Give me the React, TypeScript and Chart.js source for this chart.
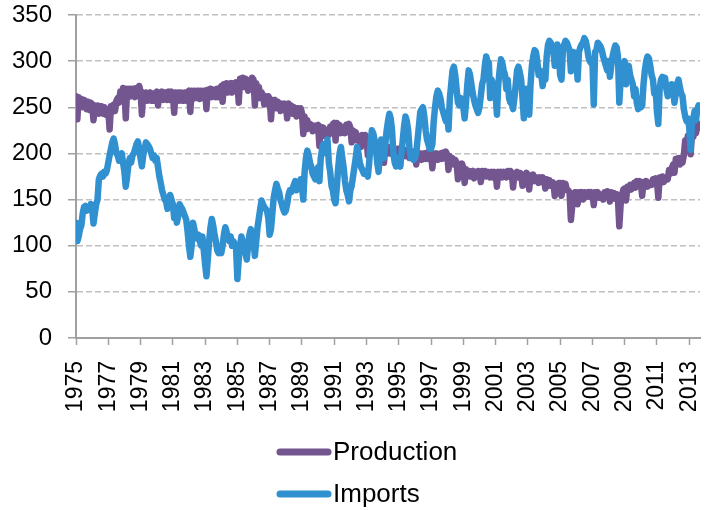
import { useEffect, useRef } from "react";
import { Chart, registerables } from "chart.js";

Chart.register(...registerables);

// Tick labels every 24 months starting Jan 1975
const tickYears = [
  "1975", "1977", "1979", "1981", "1983", "1985", "1987", "1989", "1991", "1993",
  "1995", "1997", "1999", "2001", "2003", "2005", "2007", "2009", "2011", "2013",
];

const seriesNames = ["Production", "Imports"];

// Monthly values, Jan 1975 .. Sep 2013 (one row per year)
const production = [
  262, 237, 261, 252, 259, 250, 258, 257, 248, 256, 247, 255, // 1975
  253, 236, 252, 244, 252, 243, 251, 251, 243, 250, 242, 248, // 1976
  246, 226, 251, 245, 253, 246, 257, 260, 255, 267, 261, 271, // 1977
  270, 238, 270, 261, 270, 262, 270, 270, 261, 271, 264, 273, // 1978
  267, 242, 266, 258, 266, 257, 265, 266, 257, 265, 257, 265, // 1979
  267, 252, 266, 258, 267, 258, 266, 266, 258, 267, 258, 267, // 1980
  265, 244, 266, 257, 266, 257, 266, 265, 257, 266, 257, 266, // 1981
  268, 245, 268, 259, 268, 260, 268, 268, 259, 268, 260, 268, // 1982
  268, 248, 269, 261, 270, 261, 269, 269, 261, 270, 261, 270, // 1983
  273, 256, 275, 266, 276, 266, 275, 276, 266, 276, 268, 277, // 1984
  276, 255, 281, 272, 282, 272, 281, 280, 268, 279, 271, 282, // 1985
  280, 252, 276, 265, 272, 260, 266, 263, 253, 262, 254, 262, // 1986
  259, 237, 258, 250, 258, 249, 256, 254, 246, 254, 247, 254, // 1987
  252, 238, 254, 245, 252, 243, 250, 249, 240, 249, 242, 249, // 1988
  244, 221, 240, 226, 236, 227, 232, 231, 224, 230, 225, 230, // 1989
  231, 208, 229, 221, 228, 219, 225, 225, 220, 229, 224, 232, // 1990
  233, 214, 233, 225, 231, 222, 228, 228, 222, 231, 224, 232, // 1991
  228, 212, 225, 217, 223, 214, 219, 219, 207, 220, 213, 220, // 1992
  218, 198, 215, 208, 213, 205, 211, 210, 203, 210, 203, 209, // 1993
  209, 190, 208, 201, 207, 200, 205, 205, 198, 205, 198, 205, // 1994
  205, 186, 204, 198, 204, 197, 203, 202, 195, 201, 196, 202, // 1995
  201, 188, 200, 194, 200, 193, 200, 200, 194, 201, 194, 201, // 1996
  200, 184, 200, 194, 200, 193, 199, 200, 194, 201, 195, 202, // 1997
  199, 182, 197, 190, 195, 188, 193, 190, 172, 188, 184, 189, // 1998
  185, 168, 183, 176, 181, 175, 180, 181, 173, 180, 175, 181, // 1999
  180, 169, 181, 175, 181, 175, 180, 180, 174, 180, 174, 180, // 2000
  179, 164, 180, 175, 180, 174, 180, 179, 174, 181, 175, 181, // 2001
  179, 163, 178, 174, 180, 174, 179, 178, 165, 166, 174, 179, // 2002
  177, 161, 176, 172, 177, 170, 174, 174, 168, 174, 169, 174, // 2003
  172, 162, 172, 165, 171, 165, 169, 168, 154, 160, 162, 168, // 2004
  168, 154, 168, 163, 167, 160, 160, 158, 128, 143, 150, 158, // 2005
  158, 145, 158, 153, 158, 150, 158, 157, 153, 158, 153, 158, // 2006
  157, 144, 158, 154, 158, 152, 155, 153, 150, 158, 153, 159, // 2007
  158, 148, 158, 153, 157, 151, 156, 150, 121, 145, 155, 161, // 2008
  162, 149, 164, 160, 166, 161, 165, 168, 163, 170, 165, 170, // 2009
  168, 154, 169, 165, 170, 164, 168, 168, 166, 172, 167, 173, // 2010
  170, 152, 174, 168, 175, 169, 171, 174, 172, 182, 178, 184, // 2011
  188, 179, 194, 188, 195, 188, 195, 190, 198, 214, 210, 219, // 2012
  218, 199, 220, 218, 226, 222, 231, 232, 228, // 2013
];

const imports = [
  125, 105, 110, 118, 122, 135, 142, 143, 138, 142, 140, 145, // 1975
  140, 124, 135, 145, 150, 172, 176, 178, 175, 180, 178, 182, // 1976
  190, 198, 205, 212, 216, 210, 200, 198, 192, 196, 200, 190, // 1977
  180, 164, 175, 188, 195, 190, 198, 200, 205, 210, 213, 205, // 1978
  195, 186, 198, 205, 212, 210, 208, 205, 200, 195, 198, 192, // 1979
  195, 185, 175, 168, 160, 155, 150, 148, 140, 145, 155, 150, // 1980
  145, 130, 138, 125, 132, 145, 142, 140, 136, 132, 128, 115, // 1981
  100, 88, 100, 125, 118, 110, 108, 112, 105, 100, 110, 95, // 1982
  80, 67, 85, 105, 120, 129, 122, 112, 105, 95, 92, 98, // 1983
  92, 100, 112, 120, 115, 108, 105, 110, 100, 105, 102, 98, // 1984
  64, 85, 100, 110, 105, 98, 92, 85, 100, 112, 118, 110, // 1985
  105, 89, 105, 120, 130, 140, 149, 145, 142, 140, 138, 130, // 1986
  112, 118, 135, 152, 160, 167, 162, 158, 150, 145, 140, 136, // 1987
  138, 145, 155, 160, 158, 162, 166, 170, 160, 165, 168, 172, // 1988
  165, 150, 180, 195, 203, 198, 190, 185, 178, 175, 172, 180, // 1989
  185, 170, 195, 205, 210, 208, 200, 215, 190, 180, 165, 160, // 1990
  150, 146, 165, 185, 200, 207, 195, 185, 170, 160, 155, 148, // 1991
  160, 165, 175, 185, 195, 207, 200, 190, 185, 182, 178, 180, // 1992
  178, 175, 190, 210, 225, 222, 215, 205, 190, 180, 200, 215, // 1993
  205, 195, 210, 225, 235, 243, 238, 225, 200, 190, 186, 195, // 1994
  190, 186, 200, 215, 230, 240, 235, 225, 205, 195, 200, 193, // 1995
  195, 200, 215, 230, 245, 248, 250, 240, 225, 215, 210, 205, // 1996
  205, 210, 235, 250, 262, 268, 265, 260, 250, 245, 240, 235, // 1997
  240, 226, 260, 275, 290, 294, 285, 270, 255, 252, 260, 255, // 1998
  250, 238, 255, 275, 290, 285, 275, 265, 258, 252, 248, 244, // 1999
  250, 262, 275, 280, 295, 305, 300, 298, 260, 280, 275, 270, // 2000
  265, 242, 275, 290, 302, 298, 290, 285, 270, 280, 260, 255, // 2001
  255, 248, 260, 275, 290, 294, 288, 280, 260, 238, 265, 270, // 2002
  250, 242, 275, 295, 305, 312, 310, 300, 285, 290, 285, 273, // 2003
  285, 280, 305, 318, 322, 320, 316, 310, 295, 300, 318, 310, // 2004
  285, 280, 310, 318, 322, 320, 316, 312, 289, 300, 310, 295, // 2005
  300, 280, 310, 315, 318, 320, 325, 322, 315, 305, 300, 298, // 2006
  300, 253, 310, 312, 320, 318, 316, 312, 305, 300, 295, 290, // 2007
  300, 283, 295, 305, 312, 317, 315, 305, 255, 280, 285, 290, // 2008
  300, 275, 290, 295, 285, 280, 275, 262, 270, 255, 248, 255, // 2009
  250, 252, 275, 290, 300, 305, 303, 295, 285, 280, 265, 270, // 2010
  245, 232, 270, 280, 283, 278, 282, 270, 262, 270, 265, 275, // 2011
  268, 255, 265, 275, 280, 272, 265, 262, 248, 240, 235, 238, // 2012
  228, 204, 232, 238, 246, 236, 248, 252, 250, // 2013
];

const PURPLE = "#735590";
const BLUE = "#3191d0";
const AXIS = "#a0a0a0";
const GRID = "#c0c0c0";
const FONT = "'Liberation Sans', Arial, sans-serif";

export default function App() {
  const ref = useRef<HTMLCanvasElement>(null);

  useEffect(() => {
    if (!ref.current) return;

    const stackedLegend = {
      id: "stackedLegend",
      afterDraw(chart: any) {
        const ctx = chart.ctx as CanvasRenderingContext2D;
        ctx.save();
        chart.data.datasets.forEach((ds: any, i: number) => {
          const y = 452 + i * 42;
          ctx.strokeStyle = ds.borderColor;
          ctx.lineWidth = 7;
          ctx.lineCap = "round";
          ctx.beginPath();
          ctx.moveTo(280, y);
          ctx.lineTo(328, y);
          ctx.stroke();
          ctx.fillStyle = "#000";
          ctx.font = `26px ${FONT}`;
          ctx.textBaseline = "middle";
          ctx.textAlign = "left";
          ctx.fillText(ds.label, 333, y + 1);
        });
        ctx.restore();
      },
    };

    const chart = new Chart(ref.current, {
      type: "line",
      data: {
        datasets: [
          {
            label: seriesNames[0],
            data: production.map((v, i) => ({ x: i, y: v })),
            borderColor: PURPLE,
            backgroundColor: PURPLE,
            order: 1,
          },
          {
            label: seriesNames[1],
            data: imports.map((v, i) => ({ x: i, y: v })),
            borderColor: BLUE,
            backgroundColor: BLUE,
            order: 0,
          },
        ],
      },
      options: {
        animation: false,
        responsive: false,
        layout: { padding: { top: 15, right: 13, left: 0, bottom: 0 } },
        plugins: {
          legend: { display: false },
          tooltip: { enabled: false },
        },
        elements: {
          point: { radius: 0 },
          line: {
            borderWidth: 6.5,
            tension: 0,
            borderJoinStyle: "round",
            borderCapStyle: "round",
          },
        },
        scales: {
          x: {
            type: "linear",
            min: 0,
            max: 464,
            afterBuildTicks: (s: any) => {
              s.ticks = tickYears.map((_, k) => ({ value: k * 24 }));
            },
            afterFit: (s: any) => {
              s.height = 172;
              s.paddingLeft = 0;
              s.paddingRight = 0;
            },
            ticks: {
              autoSkip: false,
              minRotation: 90,
              maxRotation: 90,
              padding: 16,
              color: "#000",
              font: { family: FONT, size: 23 },
              callback: (v: any) => tickYears[Math.round(Number(v) / 24)],
            },
            grid: {
              drawOnChartArea: false,
              drawTicks: true,
              tickLength: 7,
              tickColor: AXIS,
              tickWidth: 1.5,
            },
            border: { color: AXIS, width: 2 },
          },
          y: {
            min: 0,
            max: 350,
            afterFit: (s: any) => {
              s.width = 76;
              s.paddingTop = 0;
              s.paddingBottom = 0;
            },
            ticks: {
              stepSize: 50,
              padding: 16,
              color: "#000",
              font: { family: FONT, size: 24 },
            },
            grid: {
              color: GRID,
              lineWidth: 1.5,
              tickLength: 8,
              tickColor: AXIS,
              tickWidth: 1.5,
              tickBorderDash: [],
            },
            border: { color: AXIS, width: 2, dash: [6, 3] },
          },
        },
      },
      plugins: [stackedLegend],
    } as any);

    return () => chart.destroy();
  }, []);

  return (
    <div style={{ position: "absolute", left: 0, top: 0, width: 713, height: 510 }}>
      <canvas ref={ref} width={713} height={510} style={{ width: 713, height: 510 }} />
    </div>
  );
}
